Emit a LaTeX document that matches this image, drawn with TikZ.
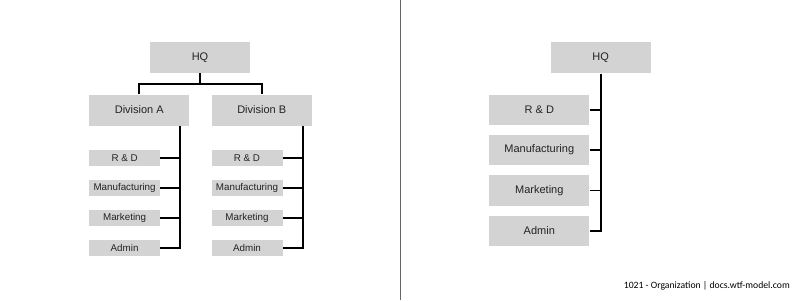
\documentclass[tikz,border=0pt]{standalone}
\usepackage{fontspec}
\setmainfont{Liberation Sans}
\newfontfamily\footfont{Carlito}
\definecolor{boxgray}{RGB}{211,211,211}
\definecolor{txtgray}{RGB}{35,35,35}
\begin{document}
\begin{tikzpicture}[x=1pt,y=-1pt,
  box/.style={fill=boxgray,draw=none,inner sep=0pt,text=txtgray,font=\fontsize{11}{13}\selectfont},
  smallbox/.style={box,font=\fontsize{9.8}{12}\selectfont},
  conn/.style={draw=black,line width=1.7pt}]
\useasboundingbox (0,0) rectangle (800,300);
\fill[white] (0,0) rectangle (800,300);
% separator
\coordinate (sepT) at (400.5,0);
\coordinate (sepB) at (400.5,300);
\draw[gray!80!black,line width=0.9pt] (sepT) -- (sepB);
% ---------- left chart ----------
\node[box,minimum width=100,minimum height=31] (hq) at (200,57.5) {HQ};
\node[box,minimum width=100,minimum height=31] (da) at (139.3,110) {Division A};
\node[box,minimum width=100,minimum height=31] (db) at (261.7,110) {Division B};
\foreach \n/\t/\y in {1/R \& D/158,2/Manufacturing/188,3/Marketing/218,4/Admin/248}{
  \node[smallbox,minimum width=71,minimum height=16.5] (a\n) at (124.6,\y) {\t};
  \node[smallbox,minimum width=71,minimum height=16.5] (b\n) at (247,\y) {\t};
}
\draw[conn] (hq.south) -- ++(0,11) -| (da.north);
\draw[conn] (hq.south) ++(0,11) -| (db.north);
\draw[conn] (da.south -| 180,0) |- (a4.east);
\foreach \n in {1,2,3}{\draw[conn] (a\n.east) -- (a\n.east -| 180,0);}
\draw[conn] (db.south -| 303.3,0) |- (b4.east);
\foreach \n in {1,2,3}{\draw[conn] (b\n.east) -- (b\n.east -| 303.3,0);}
% ---------- right chart ----------
\node[box,minimum width=100,minimum height=31] (hq2) at (600.7,57.8) {HQ};
\foreach \n/\t/\y in {1/R \& D/110,2/Manufacturing/150,3/Marketing/190.5,4/Admin/231}{
  \node[box,minimum width=100,minimum height=30.5] (c\n) at (539.3,\y) {\t};
}
\draw[conn] (hq2.south) |- (c4.east);
\foreach \n in {1,2,3}{\draw[conn] (c\n.east) -- (c\n.east -| hq2.south);}
% footer
\node[anchor=east,inner sep=0pt,font=\footfont\fontsize{9.7}{11}\selectfont,text=black] (foot) at (790,286) {1021 - Organization | docs.wtf-model.com};
\end{tikzpicture}
\end{document}
